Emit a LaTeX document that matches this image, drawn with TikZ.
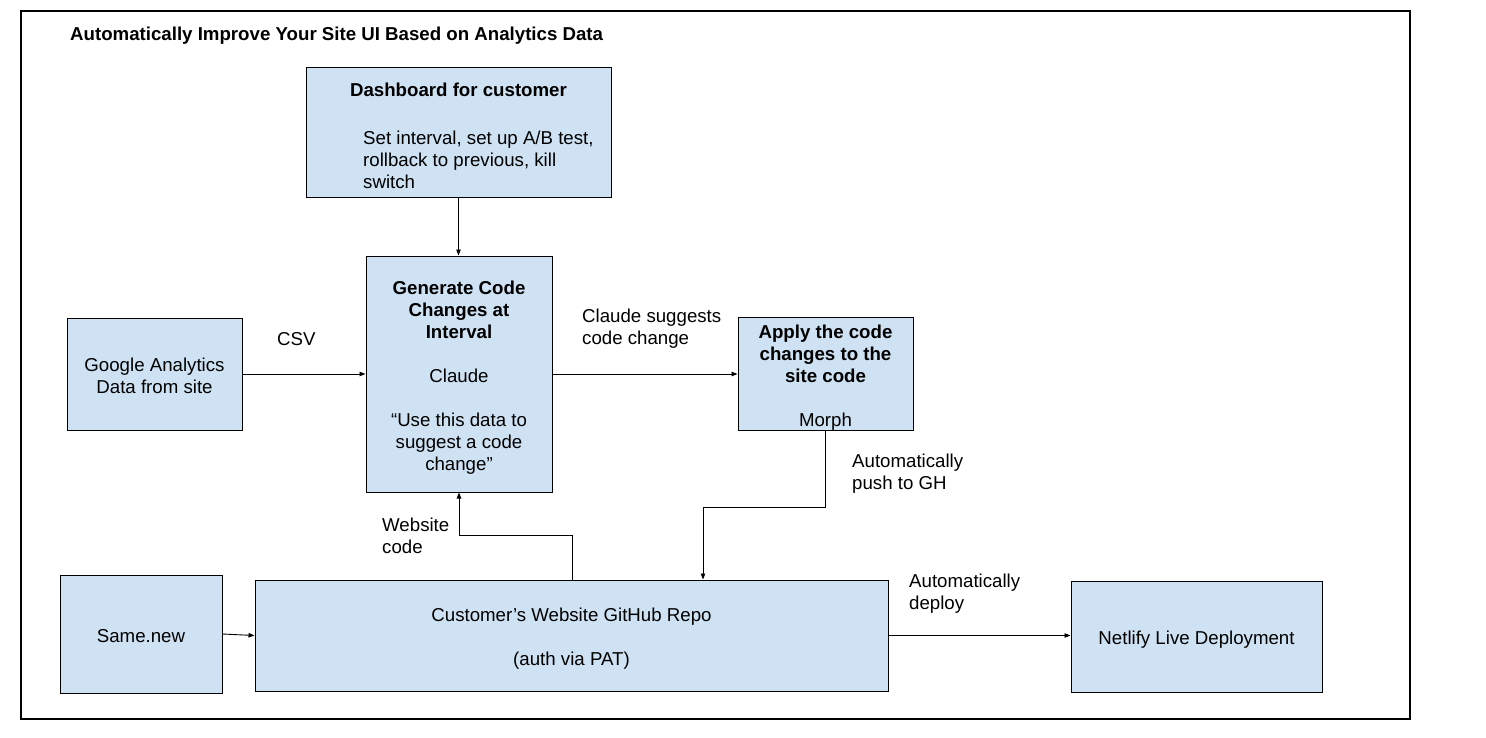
\documentclass[tikz,border=0pt]{standalone}
\usepackage{fontspec}
\setmainfont{Liberation Sans}
\usetikzlibrary{positioning}
\usetikzlibrary{arrows.meta}

\definecolor{boxblue}{HTML}{CFE2F3}
\newcommand{\topgap}{\rule{0pt}{20.5pt}}
\newcommand{\botgap}{\rule[-4.3pt]{0pt}{4.3pt}}

\begin{document}
\begin{tikzpicture}[x=1pt, y=-1pt,
    every node/.style={font=\fontsize{18.67}{22}\selectfont, inner sep=0pt},
    box/.style={draw, fill=boxblue, line width=1pt, align=center},
    lbl/.style={align=left, anchor=base west},
    link/.style={-{Triangle[length=6pt, width=4.5pt]}, line width=0.9pt}]
  \useasboundingbox (0,0) rectangle (1486,737);
  % Frame and title
  \draw[line width=1.2pt] (21,11) rectangle (1410,719);
  \node[anchor=base west, font=\fontsize{18.67}{22}\selectfont\bfseries] (title) at (70,40)
    {Automatically Improve Your Site UI Based on Analytics Data};

  % Boxes
  \node[box, minimum width=305, minimum height=130] (dash) at (458.5,132) {};
  \node[anchor=base, font=\fontsize{18.67}{22}\selectfont\bfseries] (dashtitle) at (458.5,96) {Dashboard for customer};
  \node[lbl] (dashtext) at (363,188) {Set interval, set up A/B test,\\rollback to previous, kill\\switch};
  \node[box, minimum width=186, minimum height=236] (gen) at (459,374)
    {\topgap\textbf{Generate Code}\\\textbf{Changes at}\\\textbf{Interval}\\[22pt]Claude\\[22pt]“Use this data to\\suggest a code\\change”\botgap};
  \node[box, minimum width=175, minimum height=112] (google) at (154.5,374) {\topgap Google Analytics\\Data from site\botgap};
  \node[box, minimum width=175, minimum height=112] (apply) at (825.5,374)
    {\topgap\textbf{Apply the code}\\\textbf{changes to the}\\\textbf{site code}\\[22pt]Morph\botgap};
  \node[box, minimum width=162, minimum height=118] (samenew) at (141,634) {\topgap Same.new\botgap};
  \node[box, minimum width=633, minimum height=111] (repo) at (571.5,635.5)
    {\topgap Customer’s Website GitHub Repo\\[22pt](auth via PAT)\botgap};
  \node[box, minimum width=251, minimum height=111] (netlify) at (1196.5,636.5) {\topgap Netlify Live Deployment\botgap};

  % Labels
  \node[lbl] (csv) at (277,345) {CSV};
  \node[lbl] (suggests) at (582,344) {Claude suggests\\code change};
  \node[lbl] (push) at (852,489) {Automatically\\push to GH};
  \node[lbl] (webcode) at (382,553) {Website\\code};
  \node[lbl] (deploy) at (909,609) {Automatically\\deploy};

  % Arrows
  \coordinate (pushknee) at (703,507);
  \coordinate (codeknee) at (572,535);
  \draw[link] (dash.south) -- (dash.south |- gen.north);
  \draw[link] (google.east) -- (google.east -| gen.west);
  \draw[link] (gen.east) -- (gen.east -| apply.west);
  \draw[link] (apply.south) |- (pushknee) -- (pushknee |- repo.north);
  \draw[link] (codeknee |- repo.north) -- (codeknee) -| (gen.south);
  \draw[link] (samenew.east) -- (repo.west);
  \draw[link] (repo.east) -- (repo.east -| netlify.west);
\end{tikzpicture}
\end{document}
